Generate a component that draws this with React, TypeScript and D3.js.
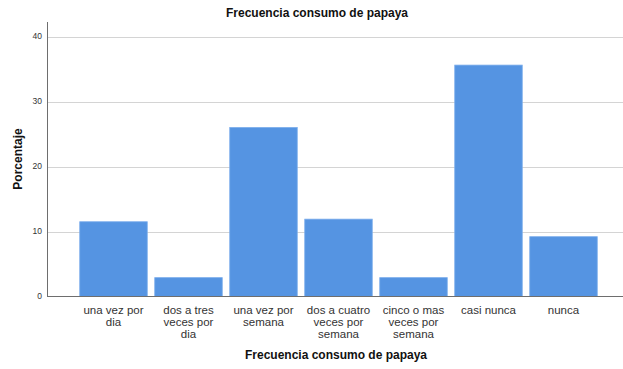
import React from "react";
import * as d3 from "d3";

const categories: string[][] = [
  ["una vez por", "dia"],
  ["dos a tres", "veces por", "dia"],
  ["una vez por", "semana"],
  ["dos a cuatro", "veces por", "semana"],
  ["cinco o mas", "veces por", "semana"],
  ["casi nunca"],
  ["nunca"],
];
const values: number[] = [11.5, 2.9, 26.0, 11.9, 2.9, 35.6, 9.2];
const yTicks: number[] = [0, 10, 20, 30, 40];
const title = "Frecuencia consumo de papaya";
const xTitle = "Frecuencia consumo de papaya";
const yTitle = "Porcentaje";

const W = 623;
const H = 369;
const left = 47;
const right = 623;
const top = 22;
const bottom = 296.5;

export default function App() {
  const keys = categories.map((_, i) => String(i));
  const x = d3.scaleBand<string>().domain(keys).range([76, 601]).paddingInner(0.1).paddingOuter(0.05);
  const y = d3.scaleLinear().domain([0, 40]).range([bottom, 36.5]);
  const font = "Arial, 'Liberation Sans', sans-serif";
  return (
    <svg width={W} height={H} style={{ position: "absolute", left: 0, top: 0, background: "#fff" }} fontFamily={font}>
      <rect x={0} y={0} width={W} height={H} fill="#fff" />
      {yTicks.filter((t) => t > 0).map((t) => (
        <line key={t} x1={left} x2={right} y1={Math.round(y(t)) + 0.5} y2={Math.round(y(t)) + 0.5} stroke="#d4d4d4" strokeWidth={1} />
      ))}
      {values.map((v, i) => (
        <rect
          key={i}
          x={x(String(i))!}
          y={y(v)}
          width={x.bandwidth()}
          height={bottom - y(v)}
          fill="#5594e2"
          stroke="#7aaceb"
          strokeWidth={0.8}
        />
      ))}
      <line x1={left + 0.5} x2={left + 0.5} y1={top} y2={bottom} stroke="#6e6e6e" strokeWidth={1} />
      <line x1={left} x2={right} y1={bottom} y2={bottom} stroke="#6e6e6e" strokeWidth={1} />
      {yTicks.map((t) => (
        <text key={t} x={42} y={y(t)} dy="0.35em" textAnchor="end" fontSize={8.5} fill="#333">
          {t}
        </text>
      ))}
      {categories.map((lines, i) => (
        <text key={i} textAnchor="middle" fontSize={11.5} fill="#333">
          {lines.map((l, j) => (
            <tspan key={j} x={x(String(i))! + x.bandwidth() / 2} y={313.5 + j * 12}>
              {l}
            </tspan>
          ))}
        </text>
      ))}
      <text x={317} y={17} textAnchor="middle" fontSize={12} fontWeight="bold" fill="#111">
        {title}
      </text>
      <text x={336} y={359} textAnchor="middle" fontSize={12} fontWeight="bold" fill="#111">
        {xTitle}
      </text>
      <text transform="translate(22,159) rotate(-90)" textAnchor="middle" fontSize={12} fontWeight="bold" fill="#111">
        {yTitle}
      </text>
    </svg>
  );
}
